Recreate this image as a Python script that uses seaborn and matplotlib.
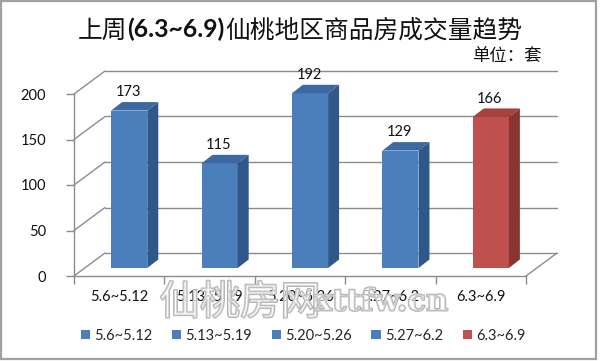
import numpy as np
import pandas as pd
import matplotlib
matplotlib.use("Agg")
import matplotlib.pyplot as plt
import seaborn as sns
from matplotlib.patches import Polygon, Rectangle
import matplotlib.patheffects as pe

# ---------------- data ----------------
categories = ["5.6~5.12", "5.13~5.19", "5.20~5.26", "5.27~6.2", "6.3~6.9"]
values = [173, 115, 192, 129, 166]
y_ticks = [0, 50, 100, 150, 200]
title_parts = ["上周", "(6.3~6.9)", "仙桃地区商品房成交量趋势"]
title_weights = ["normal", "bold", "normal"]
unit_label = "单位：套"
watermark_cn = "仙桃房网"
watermark_en = "xttfw.cn"

front_colors = ["#4B7FBC", "#4B7FBC", "#4B7FBC", "#4B7FBC", "#C0504D"]
side_colors = ["#30578A", "#30578A", "#30578A", "#30578A", "#8A3432"]
top_colors = ["#3D69A2", "#3D69A2", "#3D69A2", "#3D69A2", "#A5413E"]

# ---------------- style ----------------
sns.set_theme(style="white")
plt.rcParams["font.family"] = ["Lato", "Noto Sans CJK SC", "DejaVu Sans"]
GRAY = "#8C8C8C"

W, H = 600, 361
fig = plt.figure(figsize=(W / 100, H / 100), dpi=100)
fig.patch.set_facecolor("white")

# front plane of the 3-D box (pixels)
x_left, x_right, y_floor, y_top = 74, 526, 276, 94
ax = fig.add_axes([x_left / W, (H - y_floor) / H, (x_right - x_left) / W, (y_floor - y_top) / H])
ax.set_facecolor("none")

df = pd.DataFrame({"week": categories, "count": values})
sns.barplot(data=df, x="week", y="count", hue="week", palette=front_colors,
            width=0.4, saturation=1, linewidth=0, ax=ax, legend=True, zorder=3)

ax.set_xlim(-0.5, len(categories) - 0.5)
ax.set_ylim(min(y_ticks), max(y_ticks))

kx = (x_right - x_left) / len(categories)      # px per category
ky = (y_floor - y_top) / (max(y_ticks) - min(y_ticks))  # px per unit

def off(px, py):
    return px / kx, py / ky

bar_dx, bar_dy = off(10, 8)        # bars sit a little behind the front plane
dep_dx, dep_dy = off(11, 8.5)      # depth of each bar
wall_dx, wall_dy = off(31, 23)     # back wall

# ---- walls / gridlines ----
x0, x1 = -0.5, len(categories) - 0.5
for v in y_ticks:
    ax.plot([x0, x0 + wall_dx], [v, v + wall_dy], color=GRAY, lw=1, clip_on=False, zorder=1)
    ax.plot([x0 + wall_dx, x1 + wall_dx], [v + wall_dy] * 2, color=GRAY, lw=1, clip_on=False, zorder=1)
ax.plot([x1, x1 + wall_dx], [0, wall_dy], color=GRAY, lw=1, clip_on=False, zorder=1)

# ---- 3-D bars ----
bars = [b for c in ax.containers for b in c if b.get_height() > 0]
bars = sorted(bars, key=lambda p: p.get_x())
for i, p in enumerate(bars):
    p.set_x(p.get_x() + bar_dx)
    p.set_y(p.get_y() + bar_dy)
    p.set_clip_on(False)
    p.set_zorder(3)
    bx0 = p.get_x(); bx1 = bx0 + p.get_width()
    yb = p.get_y(); yt = yb + p.get_height()
    top = Polygon([(bx0, yt), (bx1, yt), (bx1 + dep_dx, yt + dep_dy), (bx0 + dep_dx, yt + dep_dy)],
                  closed=True, facecolor=top_colors[i], edgecolor="none", clip_on=False, zorder=3)
    side = Polygon([(bx1, yb), (bx1 + dep_dx, yb + dep_dy), (bx1 + dep_dx, yt + dep_dy), (bx1, yt)],
                   closed=True, facecolor=side_colors[i], edgecolor="none", clip_on=False, zorder=3)
    ax.add_patch(top); ax.add_patch(side)
    ax.annotate(str(values[i]), xy=((bx0 + bx1) / 2 - 0.01, yt + dep_dy), xytext=(0, 2),
                textcoords="offset points", ha="center", va="bottom", fontsize=10.5,
                color="#111111", annotation_clip=False, zorder=4)

# ---- axes ----
for s in ["top", "right"]:
    ax.spines[s].set_visible(False)
for s in ["left", "bottom"]:
    ax.spines[s].set_color(GRAY)
    ax.spines[s].set_linewidth(1)
ax.set_yticks(y_ticks)
ax.set_xticks(range(len(categories)))
ax.set_xticklabels(categories)
ax.set_xticks(np.arange(-0.5, len(categories), 1), minor=True)
ax.tick_params(axis="y", length=6, width=1, color=GRAY, pad=14, labelsize=10.5, labelcolor="#111111", left=True)
ax.tick_params(axis="x", which="major", length=0, pad=10, labelsize=10.5, labelcolor="#111111")
ax.tick_params(axis="x", which="minor", length=6, width=1, color=GRAY, bottom=True)
ax.set_xlabel(""); ax.set_ylabel("")

# ---- legend ----
sns.move_legend(ax, "center", bbox_to_anchor=(303 / W, (H - 335.5) / H),
                bbox_transform=fig.transFigure, ncol=5, frameon=False, title=None,
                handlelength=0.62, handleheight=0.62, handletextpad=0.3,
                columnspacing=1.35, fontsize=10.5, borderpad=0)

# ---- title ----
renderer = fig.canvas.get_renderer()
ttexts = [fig.text(0, (H - 37.5) / H, s, fontsize=17.8, fontweight=w, va="baseline",
                   ha="left", color="#111111",
                   family=["Lato", "Noto Sans CJK SC", "DejaVu Sans"])
          for s, w in zip(title_parts, title_weights)]
widths = [t.get_window_extent(renderer).width for t in ttexts]
xpos = 300 - sum(widths) / 2
for t, wdt in zip(ttexts, widths):
    t.set_x(xpos / W)
    xpos += wdt

fig.text(542 / W, (H - 56.5) / H, unit_label, ha="right", va="center", fontsize=12.5,
         color="#111111", family=["Noto Sans CJK SC", "DejaVu Sans"])

# ---- watermark (outlined, see-through) ----
wm_fx = [pe.Stroke(linewidth=1.4, foreground="#B4B4B4"), pe.Normal()]
fig.text(240 / W, (H - 303) / H, watermark_cn, ha="center", va="center", fontsize=29,
         fontweight="normal", color=(1, 1, 1, 0.45), family=["Noto Sans CJK SC"],
         path_effects=wm_fx, zorder=10)
fig.text(381 / W, (H - 302) / H, watermark_en, ha="center", va="center", fontsize=22,
         fontweight="bold", color=(1, 1, 1, 0.4), family=["DejaVu Serif"],
         path_effects=wm_fx, zorder=10)

# ---- outer border ----
fig.patches.append(Rectangle((1 / W, 2 / H), 595 / W, 358 / H, transform=fig.transFigure,
                             fill=False, edgecolor="#A0A0A0", lw=1.6))

fig.savefig("out.png", dpi=100, facecolor="white")
